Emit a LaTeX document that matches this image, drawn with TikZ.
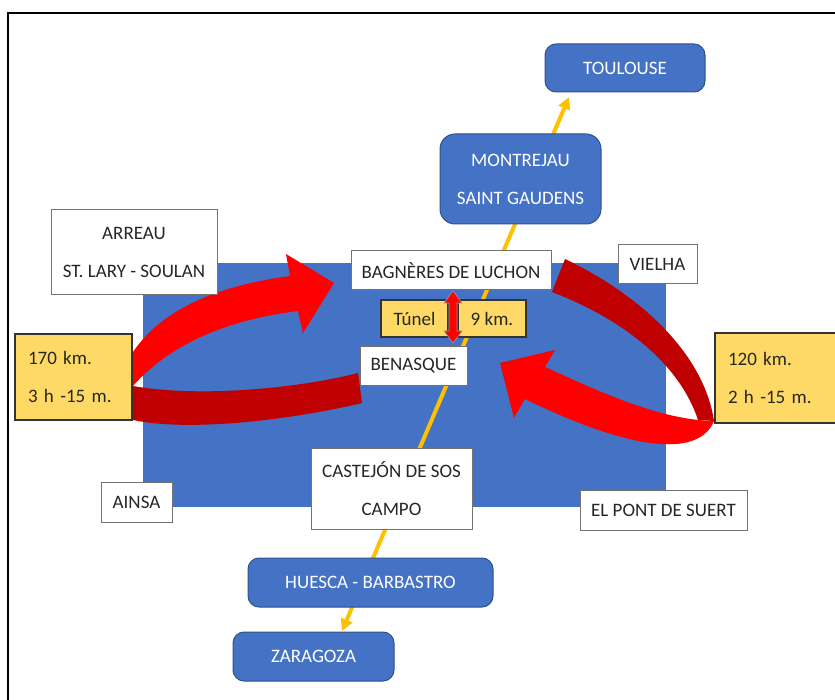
\documentclass[tikz,border=0pt]{standalone}
\usepackage{fontspec}
\setmainfont{Carlito}
\usetikzlibrary{arrows.meta}
\definecolor{oblue}{HTML}{4472C4}
\definecolor{oblueline}{HTML}{2F528F}
\definecolor{ogold}{HTML}{FFC000}
\definecolor{oyellow}{HTML}{FFD966}
\definecolor{dred}{HTML}{C00000}
\definecolor{bred}{HTML}{FF0000}
\definecolor{txt}{HTML}{262626}
\begin{document}
\begin{tikzpicture}[x=1pt,y=-1pt,
 every node/.style={inner sep=0pt, font=\fontsize{19}{38}\selectfont, align=center},
 wbox/.style={draw=black!55, fill=white, line width=1pt, text=txt},
 bbox/.style={draw=oblueline, fill=oblue, rounded corners=11pt, line width=1pt, text=white},
 ybox/.style={draw=black!80, fill=oyellow, line width=1.3pt, text=txt, align=left, inner xsep=13pt},
 yline/.style={draw=ogold, line width=4pt}
 ]
\useasboundingbox (0,0) rectangle (835,700);
\clip (0,0) rectangle (835,700);
% frame
\draw[line width=2.5pt] (8,720) -- (8,13) -- (850,13);
% blue area
\fill[oblue] (143,263) rectangle (666,507);
% yellow route line
\coordinate (ytop) at (569,97);
\coordinate (ybot) at (342,631);
\draw[yline, {Triangle[length=12pt,width=12pt]}-{Triangle[length=12pt,width=12pt]}] (ybot) -- (ytop);
% left dark band
\fill[dred] (133,386) .. controls (200,398) and (300,388) .. (358,373) -- (362,403)
  .. controls (290,420) and (190,432) .. (133,420) -- cycle;
% left bright arrow
\fill[bred] (133,352) .. controls (165,305) and (225,285) .. (290,276) -- (286,254) -- (334,283)
  -- (303,333) -- (298,311) .. controls (240,318) and (175,338) .. (133,386) -- cycle;
% right dark band
\fill[dred] (565,259) .. controls (650,300) and (705,360) .. (714,421) -- (698,420)
  .. controls (680,365) and (625,320) .. (552,292) -- cycle;
% right bright arrow
\fill[bred] (545,367) .. controls (600,392) and (660,420) .. (714,421)
  .. controls (700,455) and (640,455) .. (525,399) -- (514,418) -- (500,363) -- (555,350) -- cycle;
% boxes
\node[bbox, minimum width=160pt, minimum height=48pt] (toulouse) at (625,68) {TOULOUSE};
\node[bbox, minimum width=161pt, minimum height=90pt, rounded corners=15pt] (montrejau) at (520.5,179) {MONTREJAU\\SAINT GAUDENS};
\node[bbox, minimum width=245pt, minimum height=49pt] (huesca) at (370.5,582.5) {HUESCA - BARBASTRO};
\node[bbox, minimum width=161pt, minimum height=49pt] (zaragoza) at (313.5,656.5) {ZARAGOZA};
\node[wbox, minimum width=161pt, minimum height=81pt] (castejon) at (391.5,488.5) {CASTEJÓN DE SOS\\CAMPO};
\node[wbox, minimum width=200pt, minimum height=39pt] (bagneres) at (451,270.5) {BAGNÈRES DE LUCHON};
\node[ybox, minimum width=67pt, minimum height=37pt, inner xsep=0pt, align=center] (tunel) at (414.5,318.5) {Túnel};
\node[ybox, minimum width=68pt, minimum height=37pt, inner xsep=0pt, align=center] (nuevekm) at (492,318.5) {9 km.};
\node[wbox, minimum width=107pt, minimum height=38pt] (benasque) at (413.5,366) {BENASQUE};
\node[wbox, minimum width=166pt, minimum height=85pt] (arreau) at (134,252.5) {ARREAU\\ST. LARY - SOULAN};
\node[wbox, minimum width=79pt, minimum height=39pt] (vielha) at (657.5,264.5) {VIELHA};
\node[ybox, text width=91pt, minimum height=86pt] (km170) at (73.5,377) {170 km.\\3 h -15 m.};
\node[ybox, text width=99pt, minimum height=90pt] (km120) at (777.5,378) {120 km.\\2 h -15 m.};
\node[wbox, minimum width=71pt, minimum height=40pt] (ainsa) at (136.5,502) {AINSA};
\node[wbox, minimum width=167pt, minimum height=40pt] (pont) at (663.5,510) {EL PONT DE SUERT};
% tunnel double arrow
\filldraw[fill=bred, draw=black!40, line width=0.6pt] (453,291) -- (462,303) -- (457,303) -- (457,331) -- (462,331)
  -- (453,343) -- (444,331) -- (449,331) -- (449,303) -- (444,303) -- cycle;
\end{tikzpicture}
\end{document}
